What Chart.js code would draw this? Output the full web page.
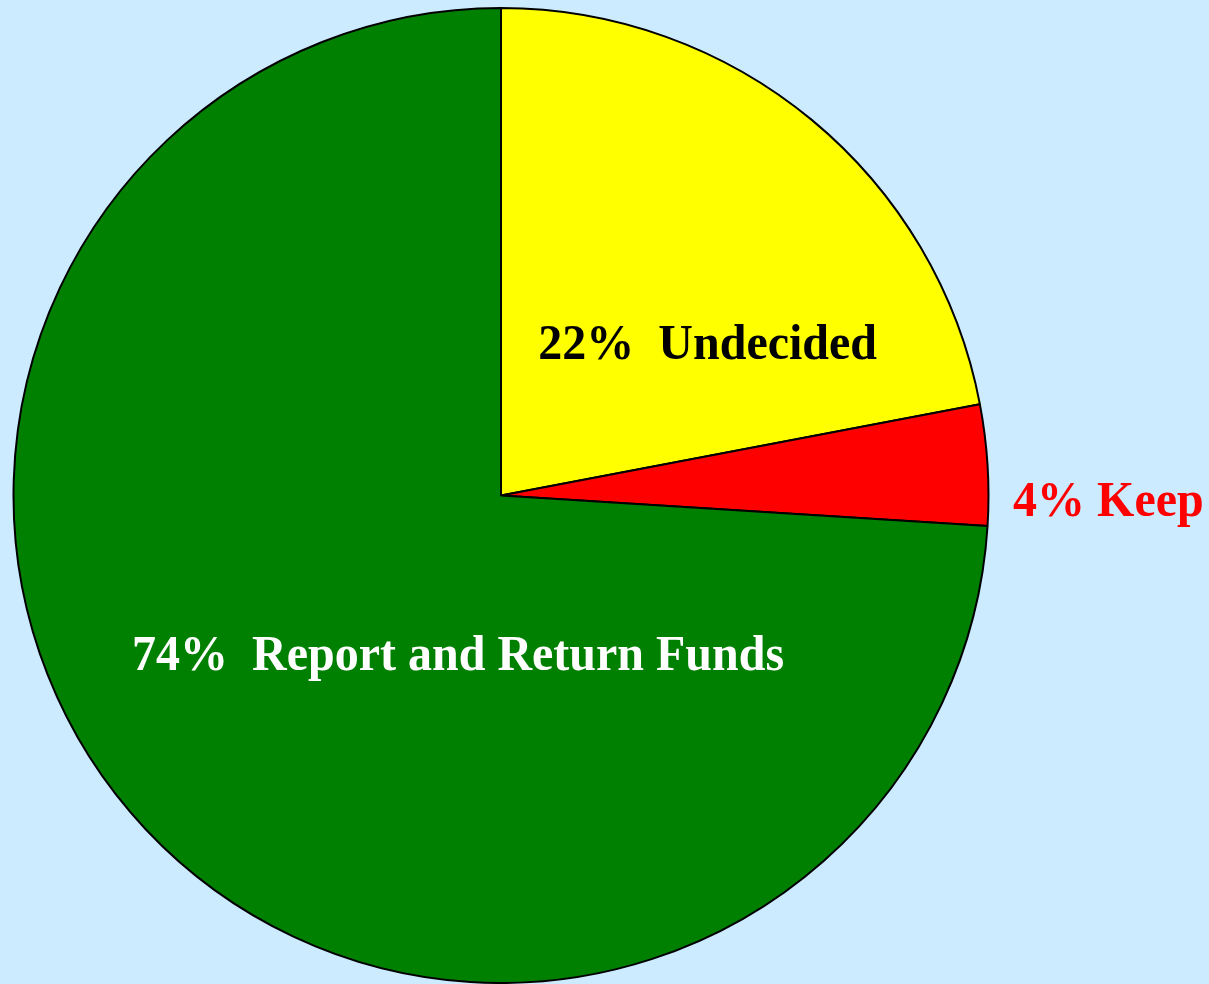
<!DOCTYPE html>
<html>
<head>
<meta charset="utf-8">
<script src="https://cdn.jsdelivr.net/npm/chart.js@4/dist/chart.umd.min.js"></script>
<style>
  html, body { margin: 0; padding: 0; background: #cdebff; }
  #wrap { width: 1209px; height: 984px; }
</style>
</head>
<body>
<div id="wrap"><canvas id="pieChart"></canvas></div>
<script>
const categories = ["Undecided", "Keep", "Report and Return Funds"];
const shares = [22, 4, 74];
const sliceColors = ["#ffff00", "#ff0000", "#008000"];
const labelTexts = ["22%  Undecided", "4% Keep", "74%  Report and Return Funds"];
const labelColors = ["#000000", "#ff0000", "#ffffff"];
// label offset from pie centre, in units of the radius
const labelOffsets = [[0.424, -0.281], [1.246, 0.043], [-0.088, 0.357]];

const sliceLabels = {
  id: "sliceLabels",
  afterDatasetsDraw(chart) {
    const ctx = chart.ctx;
    const arcs = chart.getDatasetMeta(0).data;
    ctx.font = "bold 48px 'Liberation Serif', 'Times New Roman', serif";
    ctx.textAlign = "center";
    ctx.textBaseline = "alphabetic";
    arcs.forEach((arc, i) => {
      const r = arc.outerRadius;
      const x = arc.x + labelOffsets[i][0] * r;
      const y = arc.y + labelOffsets[i][1] * r;
      ctx.save();
      // the original lettering is a bit taller than normal
      ctx.translate(x, y);
      ctx.scale(1, 1.07);
      ctx.fillStyle = labelColors[i];
      ctx.fillText(labelTexts[i], 0, 0);
      ctx.restore();
    });
  }
};

new Chart(document.getElementById("pieChart").getContext("2d"), {
  type: "pie",
  data: {
    labels: categories,
    datasets: [
      {
        data: shares,
        backgroundColor: sliceColors,
        borderColor: "#000000",
        borderWidth: 2,
      },
    ],
  },
  options: {
    responsive: true,
    maintainAspectRatio: false,
    animation: false,
    layout: { padding: { left: 12, top: 7, right: 219, bottom: 0 } },
    plugins: {
      legend: { display: false },
      tooltip: { enabled: false },
    },
  },
  plugins: [sliceLabels],
});
</script>
</body>
</html>
